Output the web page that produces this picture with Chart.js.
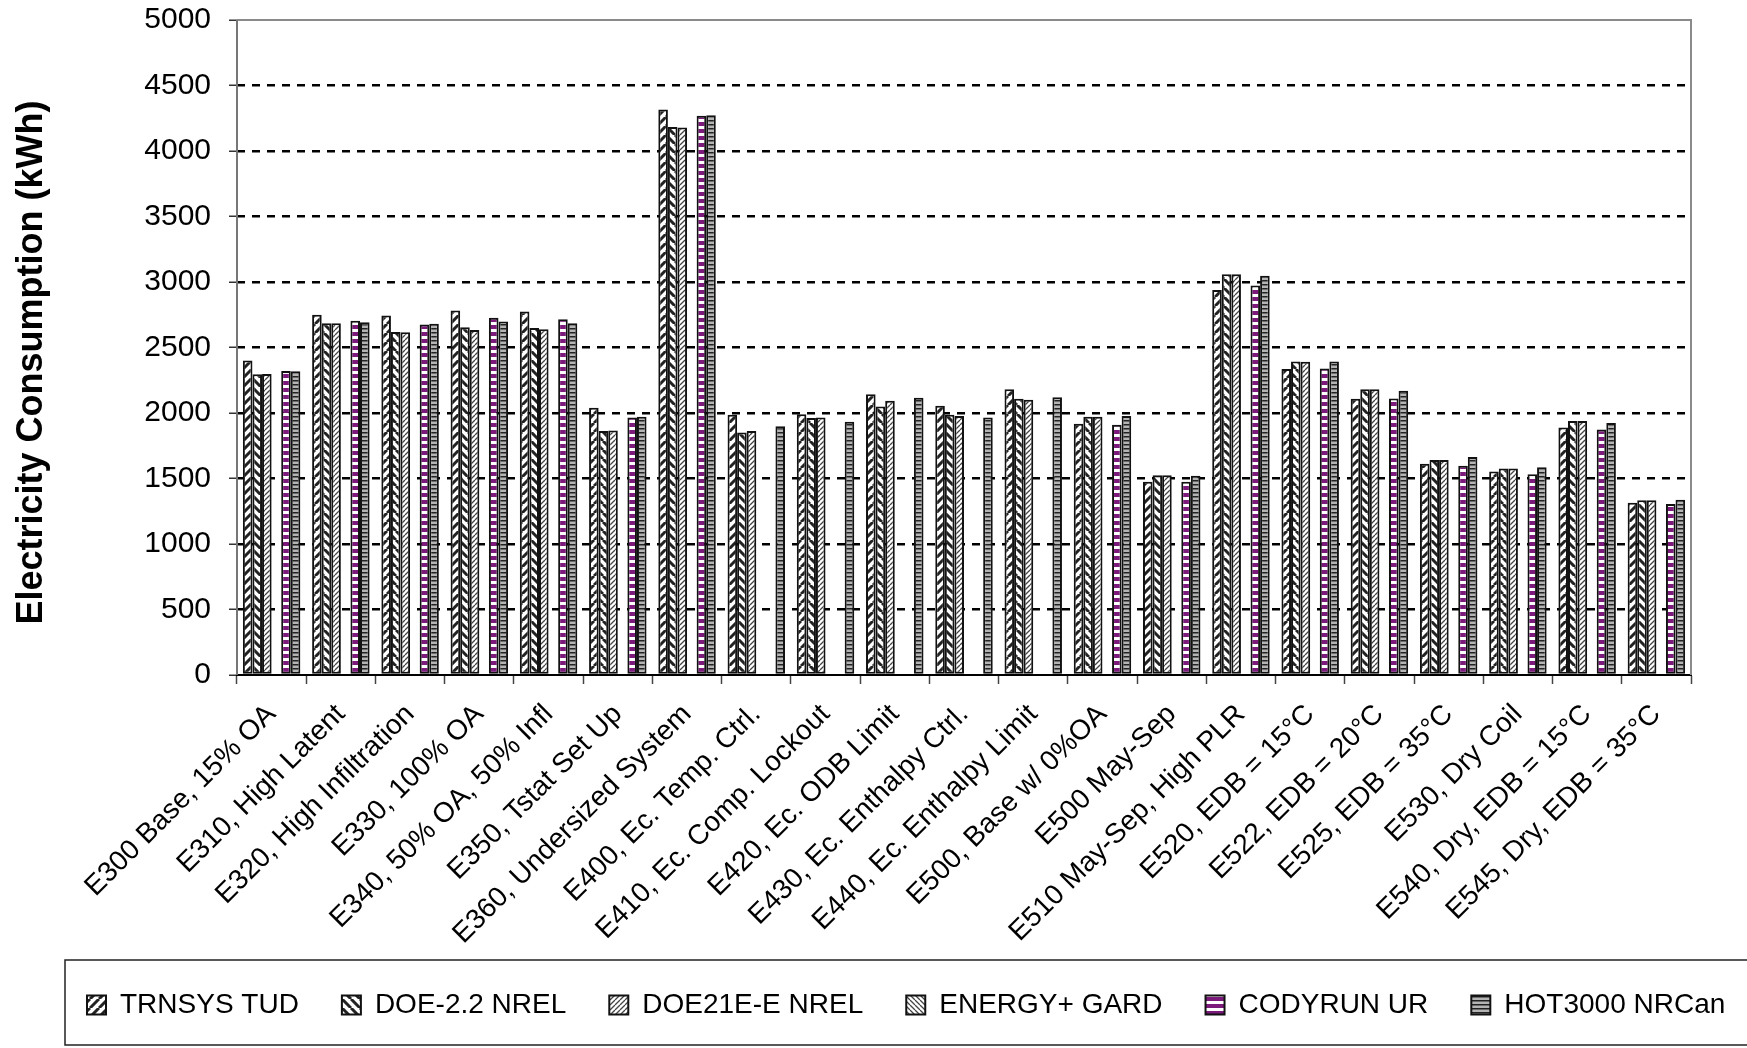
<!DOCTYPE html>
<html>
<head>
<meta charset="utf-8">
<script src="https://cdn.jsdelivr.net/npm/chart.js@4.4.1/dist/chart.umd.min.js"></script>
<style>
  html, body { margin: 0; padding: 0; background: #fff; }
  #wrap { width: 1747px; height: 1048px; }
</style>
</head>
<body>
<div id="wrap"><canvas id="chart" width="1747" height="1048"></canvas></div>
<script>
// ---- data (kWh) ----------------------------------------------------
const categories = [
  'E300 Base, 15% OA', 'E310, High Latent', 'E320, High Infiltration', 'E330, 100% OA',
  'E340, 50% OA, 50% Infl', 'E350, Tstat Set Up', 'E360, Undersized System',
  'E400, Ec. Temp. Ctrl.', 'E410, Ec. Comp. Lockout', 'E420, Ec. ODB Limit',
  'E430, Ec. Enthalpy Ctrl.', 'E440, Ec. Enthalpy Limit', 'E500, Base w/ 0%OA',
  'E500 May-Sep', 'E510 May-Sep, High PLR', 'E520, EDB = 15°C', 'E522, EDB = 20°C',
  'E525, EDB = 35°C', 'E530, Dry Coil', 'E540, Dry, EDB = 15°C', 'E545, Dry, EDB = 35°C'
];
const trnsysTud    = [2400, 2750, 2745, 2783, 2774, 2041, 4316, 1986, 1991, 2143, 2056, 2181, 1918, 1475, 2938, 2336, 2108, 1612, 1553, 1889, 1314];
const doe22Nrel    = [2295, 2686, 2619, 2654, 2648, 1863, 4184, 1851, 1962, 2050, 1986, 2108, 1971, 1524, 3060, 2394, 2181, 1641, 1577, 1939, 1334];
const doe21eNrel   = [2298, 2686, 2616, 2634, 2640, 1866, 4179, 1863, 1965, 2094, 1977, 2102, 1971, 1524, 3060, 2391, 2181, 1641, 1577, 1939, 1334];
const energyPlusGard = [null, null, null, null, null, null, null, null, null, null, null, null, null, null, null, null, null, null, null, null, null];
const codyrunUr    = [2321, 2704, 2675, 2727, 2716, 1965, 4269, null, null, null, null, null, 1910, 1475, 2973, 2339, 2111, 1597, 1533, 1875, 1305];
const hot3000Nrcan = [2318, 2692, 2681, 2698, 2686, 1971, 4272, 1898, 1933, 2117, 1965, 2120, 1977, 1521, 3048, 2394, 2170, 1664, 1586, 1924, 1337];

const Y_MIN = 0, Y_MAX = 5000, Y_STEP = 500;

// ---- fill patterns -------------------------------------------------
function hatch(dir, period, lw, color, bg) {
  const c = document.createElement('canvas');
  c.width = c.height = period;
  const g = c.getContext('2d');
  g.fillStyle = bg; g.fillRect(0, 0, period, period);
  g.strokeStyle = color; g.lineWidth = lw;
  g.beginPath();
  for (let k = -1; k <= 1; k++) {
    if (dir === '/') { g.moveTo(k * period, period); g.lineTo(k * period + period, 0); }
    else             { g.moveTo(k * period, 0);      g.lineTo(k * period + period, period); }
  }
  g.stroke();
  return g.createPattern(c, 'repeat');
}

function stripes(period, band, color, bg) {
  const c = document.createElement('canvas');
  c.width = 4; c.height = period;
  const g = c.getContext('2d');
  g.fillStyle = bg; g.fillRect(0, 0, 4, period);
  g.fillStyle = color; g.fillRect(0, 0, 4, band);
  return g.createPattern(c, 'repeat');
}

const FILLS = {
  trnsys:  hatch('/', 9, 3, '#222', '#fff'),
  doe22:   hatch('\\', 9, 3, '#222', '#fff'),
  doe21e:  hatch('/', 5, 1.3, '#444', '#fff'),
  eplus:   hatch('\\', 5, 1.3, '#444', '#fff'),
  cody:    stripes(7, 3, '#ffffff', '#7b1a7b'),
  hot3000: stripes(4, 1.5, '#222', '#b4b4b4'),
};

function ds(label, data, fill) {
  return {
    label, data,
    backgroundColor: fill,
    borderColor: '#111',
    borderWidth: 2,
    borderSkipped: false,
    barPercentage: 1.0,
    categoryPercentage: 0.83,
  };
}

// ---- frame + legend box ---------------------------------------------
const LEGEND_X0 = 87;
const framePlugin = {
  id: 'frame',
  afterLayout(chart) {
    // shift the legend row so it starts where the original one does
    const lg = chart.legend;
    const pad = lg.options.labels.padding;
    lg.left = 0;
    lg.right = 2 * LEGEND_X0 - pad + lg.lineWidths[0];
  },
  afterDatasetsDraw(chart) {
    const { ctx, chartArea: a } = chart;
    ctx.save();
    ctx.strokeStyle = '#8a8a8a';
    ctx.lineWidth = 2;
    ctx.beginPath();
    ctx.moveTo(a.left, a.top); ctx.lineTo(a.right, a.top); ctx.lineTo(a.right, a.bottom);
    ctx.stroke();
    ctx.strokeStyle = '#777';
    ctx.beginPath();
    ctx.moveTo(a.left, a.top); ctx.lineTo(a.left, a.bottom);
    ctx.stroke();
    ctx.restore();
  },
  afterDraw(chart) {
    const { ctx } = chart;
    const lg = chart.legend;
    ctx.save();
    ctx.strokeStyle = '#222';
    ctx.lineWidth = 1.5;
    ctx.strokeRect(65, lg.top + 12, chart.width + 10, 85);
    ctx.restore();
  }
};

new Chart(document.getElementById('chart').getContext('2d'), {
  type: 'bar',
  data: {
    labels: categories,
    datasets: [
      ds('TRNSYS TUD',    trnsysTud,     FILLS.trnsys),
      ds('DOE-2.2 NREL',  doe22Nrel,     FILLS.doe22),
      ds('DOE21E-E NREL', doe21eNrel,    FILLS.doe21e),
      ds('ENERGY+ GARD',  energyPlusGard, FILLS.eplus),
      ds('CODYRUN UR',    codyrunUr,     FILLS.cody),
      ds('HOT3000 NRCan', hot3000Nrcan,  FILLS.hot3000),
    ],
  },
  options: {
    responsive: false,
    animation: false,
    layout: { padding: { left: 0, right: 0, top: 20, bottom: 19 } },
    plugins: {
      tooltip: { enabled: false },
      legend: {
        position: 'bottom',
        labels: {
          color: '#000',
          font: { family: 'Liberation Sans, Arial, sans-serif', size: 28 },
          boxWidth: 19,
          boxHeight: 19,
          padding: 43,
        },
      },
    },
    scales: {
      x: {
        afterFit: s => { s.height = 273; },
        border: { color: '#000', width: 2 },
        grid: {
          offset: true,
          drawOnChartArea: false,
          drawTicks: true,
          tickLength: 9,
          tickColor: '#444',
          tickWidth: 1.5,
        },
        ticks: {
          autoSkip: false,
          minRotation: 45,
          maxRotation: 45,
          color: '#000',
          padding: 14,
          font: { family: 'Liberation Sans, Arial, sans-serif', size: 28 },
        },
      },
      y: {
        min: Y_MIN,
        max: Y_MAX,
        afterFit: s => { s.width = 237; },
        border: { display: false, dash: [8, 7] },
        grid: {
          color: c => (c.tick && (c.tick.value === Y_MIN || c.tick.value === Y_MAX)) ? 'rgba(0,0,0,0)' : '#000',
          lineWidth: 2.5,
          drawTicks: true,
          tickLength: 8,
          tickColor: '#333',
          tickWidth: 1.5,
          tickBorderDash: [],
        },
        ticks: {
          stepSize: Y_STEP,
          color: '#000',
          padding: 18,
          callback: v => String(v),
          font: { family: 'Liberation Sans, Arial, sans-serif', size: 30, lineHeight: 0.1 },
        },
        title: {
          display: true,
          text: 'Electricity Consumption (kWh)   ',
          color: '#000',
          padding: { top: 10, bottom: 0 },
          font: { family: 'Liberation Sans, Arial, sans-serif', size: 36, weight: 'bold' },
        },
      },
      y2: {
        position: 'right',
        display: true,
        afterFit: s => { s.width = 56; },
        grid: { display: false },
        border: { display: false },
        ticks: { display: false },
      },
    },
  },
  plugins: [framePlugin],
});
</script>
</body>
</html>
